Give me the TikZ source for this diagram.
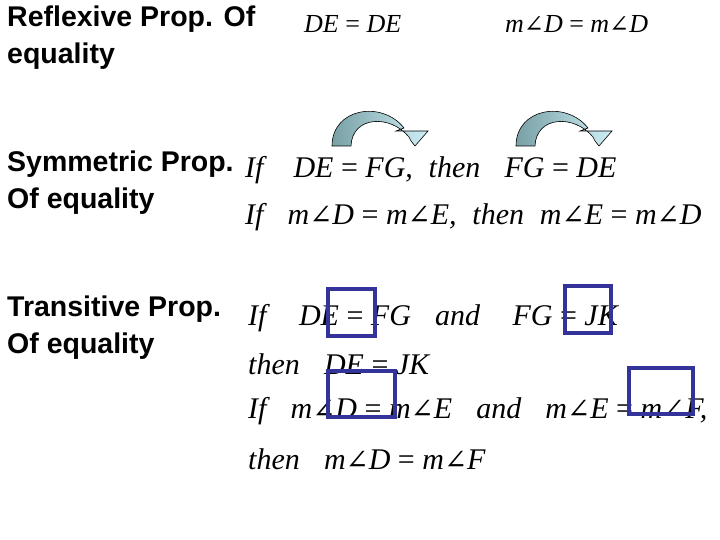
\documentclass[tikz,border=0pt]{standalone}
\usepackage{fontspec}
\setmainfont{Liberation Serif}
\newfontfamily\lab{Liberation Sans}
\newfontfamily\sym{DejaVu Serif}
\newcommand{\ang}{{\sym\upshape\fontsize{0.92em}{1em}\selectfont ∠}}
\newcommand{\eq}{\textup{ = }}
\begin{document}
\begin{tikzpicture}[x=1pt,y=-1pt,
  lbl/.style={anchor=north west,align=left,font=\lab\bfseries\fontsize{28.5}{37}\selectfont,inner sep=0pt},
  mth/.style={anchor=west,font=\fontsize{30}{30}\selectfont\itshape,inner sep=0pt},
  smth/.style={anchor=west,font=\fontsize{26}{26}\selectfont\itshape,inner sep=0pt},
  bx/.style={draw={rgb,255:red,51;green,51;blue,153},line width=4pt},
  carrow/.style={draw=black,line width=0.6pt,left color={rgb,255:red,120;green,160;blue,165},right color={rgb,255:red,205;green,238;blue,245}}]
\useasboundingbox (0,0) rectangle (720,540);
\node[lbl] (l1) at (7,6) {Reflexive Prop. Of\\equality};
\node[lbl] (l2) at (7,151) {Symmetric Prop.\\Of equality};
\node[lbl] (l3) at (7,296) {Transitive Prop.\\Of equality};
\node[smth] (r1) at (304,24) {DE\eq DE};
\node[smth] (r2) at (505,24) {m\ang D\eq m\ang D};
\node[mth] (s1) at (245,170) {If\quad DE\eq FG,\; then\;\; FG\eq DE};
\node[mth] (s2) at (245,217) {If\;\; m\ang D\eq m\ang E,\; then\; m\ang E\eq m\ang D};
\node[mth] (t1) at (248,318) {If\;\;\; DE\eq FG\;\; and\;\;\; FG\eq JK};
\node[mth] (t2) at (248,364) {then\;\; DE\eq JK};
\node[mth] (t3) at (248,411) {If\;\; m\ang D\eq m\ang E\;\; and\;\; m\ang E\eq m\ang F,};
\node[mth] (t4) at (248,459) {then\;\; m\ang D\eq m\ang F};
\foreach \dx in {0,184}{
\begin{scope}[shift={(\dx,0)}]
\path[carrow] (332,146) .. controls (332,108) and (382,100) .. (404,128)
  -- (396,131) -- (428,131) -- (415,146) -- (411,141) -- (409,137)
  .. controls (390,114) and (352,116) .. (351,146) -- cycle;
\end{scope}}
\draw[bx] (328,289) rectangle (375,336);
\draw[bx] (565,286) rectangle (611,333);
\draw[bx] (328,371) rectangle (395,417);
\draw[bx] (629,368) rectangle (693,414);
\end{tikzpicture}
\end{document}
